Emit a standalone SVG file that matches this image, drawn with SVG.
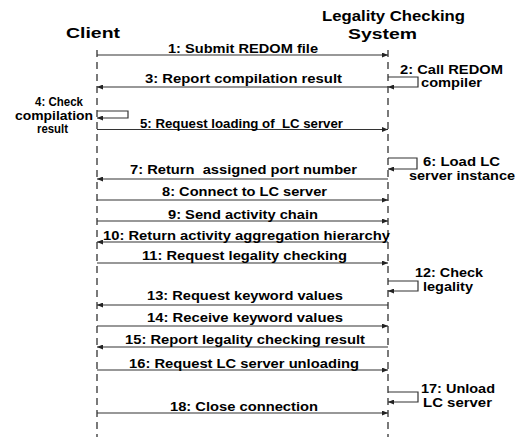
<svg xmlns="http://www.w3.org/2000/svg" width="523" height="437" viewBox="0 0 523 437">
<defs>
<marker id="ah" markerWidth="6" markerHeight="5" refX="6" refY="2.5" orient="auto" markerUnits="userSpaceOnUse">
<path d="M0,0 L6,2.5 L0,5 z" fill="#222"/>
</marker>
</defs>
<style>
.t{font-family:"Liberation Sans",Arial,sans-serif;font-weight:bold;fill:#000}
.h{font-size:15px}
.m{font-size:12px;white-space:pre}
.life{stroke:#222;stroke-width:1.2;stroke-dasharray:7 5;fill:none}
.msg{stroke:#333;stroke-width:1.2;fill:none;marker-end:url(#ah)}
</style>
<rect width="523" height="437" fill="#fff"/>
<g id="client">
<text class="t h" x="66" y="38" textLength="54" lengthAdjust="spacingAndGlyphs">Client</text>
<line class="life" x1="97" y1="50" x2="97" y2="437"/>
</g>
<g id="lcs">
<text class="t h" x="322" y="21" textLength="143" lengthAdjust="spacingAndGlyphs">Legality Checking</text>
<text class="t h" x="348" y="38.5" textLength="69" lengthAdjust="spacingAndGlyphs">System</text>
<line class="life" x1="388" y1="50" x2="388" y2="437"/>
</g>
<g id="connectors">
<path class="msg" d="M97,55 H388"/>
<path class="msg" d="M388,77 H418 V87 H388"/>
<path class="msg" d="M388,87 H97"/>
<path class="msg" d="M97,111 H128 V118 H97"/>
<path class="msg" d="M97,129.5 H388"/>
<path class="msg" d="M388,158 H417 V169 H388"/>
<path class="msg" d="M388,179 H97"/>
<path class="msg" d="M97,200 H388"/>
<path class="msg" d="M97,221 H388"/>
<path class="msg" d="M388,242 H97"/>
<path class="msg" d="M97,263 H388"/>
<path class="msg" d="M388,281 H418 V291 H388"/>
<path class="msg" d="M388,305 H97"/>
<path class="msg" d="M97,326 H388"/>
<path class="msg" d="M388,347 H97"/>
<path class="msg" d="M97,370 H388"/>
<path class="msg" d="M388,392 H418 V402 H388"/>
<path class="msg" d="M97,413 H388"/>
</g>
<g id="labels">
<text class="t m" x="168" y="53" textLength="150" lengthAdjust="spacingAndGlyphs">1: Submit REDOM file</text>
<text class="t m" x="400" y="74" textLength="103" lengthAdjust="spacingAndGlyphs">2: Call REDOM</text>
<text class="t m" x="421" y="86.5" textLength="61" lengthAdjust="spacingAndGlyphs">compiler</text>
<text class="t m" x="145" y="83" textLength="197" lengthAdjust="spacingAndGlyphs">3: Report compilation result</text>
<text class="t m" x="35" y="106" textLength="48" lengthAdjust="spacingAndGlyphs">4: Check</text>
<text class="t m" x="15" y="119.5" textLength="78" lengthAdjust="spacingAndGlyphs">compilation</text>
<text class="t m" x="37" y="133" textLength="31" lengthAdjust="spacingAndGlyphs">result</text>
<text class="t m" x="140" y="127.5" textLength="203" lengthAdjust="spacingAndGlyphs">5: Request loading of  LC server</text>
<text class="t m" x="423" y="166" textLength="77" lengthAdjust="spacingAndGlyphs">6: Load LC</text>
<text class="t m" x="409" y="180" textLength="106" lengthAdjust="spacingAndGlyphs">server instance</text>
<text class="t m" x="130" y="174" textLength="227" lengthAdjust="spacingAndGlyphs">7: Return  assigned port number</text>
<text class="t m" x="162" y="196" textLength="165" lengthAdjust="spacingAndGlyphs">8: Connect to LC server</text>
<text class="t m" x="168" y="218.5" textLength="150" lengthAdjust="spacingAndGlyphs">9: Send activity chain</text>
<text class="t m" x="103" y="240" textLength="287" lengthAdjust="spacingAndGlyphs">10: Return activity aggregation hierarchy</text>
<text class="t m" x="142" y="260" textLength="205" lengthAdjust="spacingAndGlyphs">11: Request legality checking</text>
<text class="t m" x="415" y="277" textLength="68" lengthAdjust="spacingAndGlyphs">12: Check</text>
<text class="t m" x="423" y="291" textLength="50" lengthAdjust="spacingAndGlyphs">legality</text>
<text class="t m" x="147" y="300" textLength="196" lengthAdjust="spacingAndGlyphs">13: Request keyword values</text>
<text class="t m" x="147" y="322" textLength="196" lengthAdjust="spacingAndGlyphs">14: Receive keyword values</text>
<text class="t m" x="125" y="344" textLength="240" lengthAdjust="spacingAndGlyphs">15: Report legality checking result</text>
<text class="t m" x="129" y="368" textLength="230" lengthAdjust="spacingAndGlyphs">16: Request LC server unloading</text>
<text class="t m" x="421" y="393" textLength="74" lengthAdjust="spacingAndGlyphs">17: Unload</text>
<text class="t m" x="423" y="407" textLength="69" lengthAdjust="spacingAndGlyphs">LC server</text>
<text class="t m" x="170" y="411" textLength="148" lengthAdjust="spacingAndGlyphs">18: Close connection</text>
</g>
</svg>
